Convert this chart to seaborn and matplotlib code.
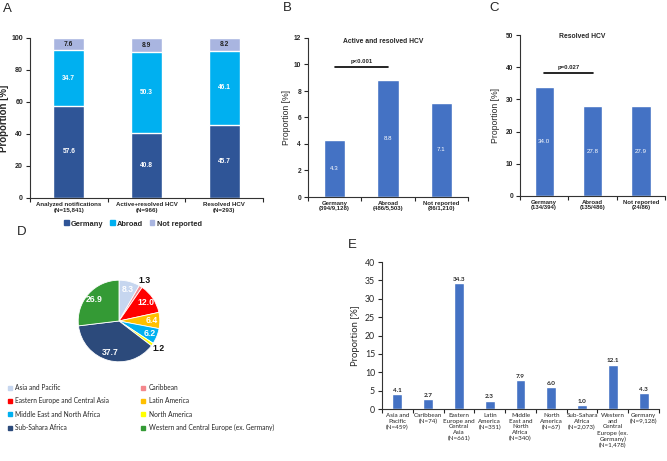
import numpy as np
import pandas as pd
import matplotlib
matplotlib.use('Agg')
import matplotlib.pyplot as plt
from matplotlib.patches import Patch
import seaborn as sns

# ---- data ----
a_groups = ['Analyzed notifications\n(N=15,841)', 'Active+resolved HCV\n(N=966)', 'Resolved HCV\n(N=293)']
a_germany = [57.6, 40.8, 45.7]
a_abroad = [34.7, 50.3, 46.1]
a_notrep = [7.6, 8.9, 8.2]

b_labels = ['Germany\n(394/9,128)', 'Abroad\n(486/5,503)', 'Not reported\n(86/1,210)']
b_values = [4.3, 8.8, 7.1]

c_labels = ['Germany\n(134/394)', 'Abroad\n(135/486)', 'Not reported\n(24/86)']
c_values = [34.0, 27.8, 27.9]

d_regions = ['Asia and Pacific', 'Caribbean', 'Eastern Europe and Central Asia', 'Latin America',
             'Middle East and North Africa', 'North America', 'Sub-Sahara Africa',
             'Western and Central Europe (ex. Germany)']
d_values = [8.3, 1.3, 12.0, 6.4, 6.2, 1.2, 37.7, 26.9]
d_colors = ['#C6D6EF', '#F4878C', '#FF0000', '#FFC000', '#00B0F0', '#FFFF00', '#2C4A7B', '#349A35']

e_labels = ['Asia and\nPacific\n(N=459)', 'Caribbean\n(N=74)', 'Eastern\nEurope and\nCentral\nAsia\n(N=661)',
            'Latin\nAmerica\n(N=351)', 'Middle\nEast and\nNorth\nAfrica\n(N=340)', 'North\nAmerica\n(N=67)',
            'Sub-Sahara\nAfrica\n(N=2,073)', 'Western\nand\nCentral\nEurope (ex.\nGermany)\n(N=1,478)',
            'Germany\n(N=9,128)']
e_values = [4.1, 2.7, 34.3, 2.3, 7.9, 6.0, 1.0, 12.1, 4.3]

BLUE = '#4472C4'
C_GER = '#2F5597'
C_ABR = '#00B0F0'
C_NR = '#A9B5E0'

sns.set_style('ticks')
plt.rcParams['font.family'] = ['Liberation Sans', 'DejaVu Sans']

fig = plt.figure(figsize=(6.67, 4.61), dpi=100)
W, H = 667, 461


def add_ax(x0, x1, ytop, ybot):
    return fig.add_axes([x0 / W, 1 - ybot / H, (x1 - x0) / W, (ybot - ytop) / H])


def cat_axis(ax, n, labels, size, ysize, weight='bold', family=None, ls=1.2):
    ax.set_xticks(range(n))
    ax.set_xticklabels(labels, fontsize=size, fontweight=weight, family=family, linespacing=ls)
    ax.set_xticks(np.arange(-0.5, n + 0.5, 1), minor=True)
    ax.tick_params(axis='x', which='major', length=0, pad=3)
    ax.tick_params(axis='x', which='minor', length=3, width=0.8, direction='out')
    ax.set_xlabel('')
    for s in ['top', 'right']:
        ax.spines[s].set_visible(False)
    for s in ['left', 'bottom']:
        ax.spines[s].set_linewidth(0.8)
        ax.spines[s].set_color('#333333')
    ax.tick_params(axis='y', length=3, width=0.8, labelsize=ysize, pad=2)
    for t in ax.get_yticklabels():
        t.set_fontweight(weight)
        if family:
            t.set_family(family)


# ---- Panel A ----
axA = add_ax(30, 263, 38, 198)
dfA = pd.DataFrame({'grp': a_groups, 'ger': a_germany, 'abr': a_abroad, 'nr': a_notrep})
dfA['top'] = dfA['ger'] + dfA['abr'] + dfA['nr']
dfA['mid'] = dfA['ger'] + dfA['abr']
for col, colr in [('top', C_NR), ('mid', C_ABR), ('ger', C_GER)]:
    sns.barplot(data=dfA, x='grp', y=col, color=colr, width=0.4, saturation=1,
                errorbar=None, ax=axA)
axA.set_xlim(-0.45, 2.48)
axA.set_ylim(0, 100)
axA.set_yticks(range(0, 101, 20))
cat_axis(axA, 3, a_groups, 4.4, 5.0, ls=1.3)
axA.set_ylabel('Proportion [%]', fontsize=7, fontweight='bold')
axA.yaxis.set_label_coords(-0.088, 0.5)
for i in range(3):
    g, a, n = a_germany[i], a_abroad[i], a_notrep[i]
    axA.text(i, g / 2, f'{g:.1f}', ha='center', va='center', color='white', fontsize=4.8, fontweight='bold')
    axA.text(i, g + a / 2, f'{a:.1f}', ha='center', va='center', color='white', fontsize=4.8, fontweight='bold')
    axA.text(i, g + a + n / 2, f'{n:.1f}', ha='center', va='center', color='#222222', fontsize=4.8, fontweight='bold')
fig.legend(handles=[Patch(color=C_GER, label='Germany'), Patch(color=C_ABR, label='Abroad'),
                    Patch(color=C_NR, label='Not reported')],
           loc='center', bbox_to_anchor=(133 / W, 1 - 224 / H), ncol=3, frameon=False,
           prop={'size': 5.4, 'weight': 'bold'}, handlelength=0.6, handleheight=0.6,
           handletextpad=0.3, columnspacing=0.9)

# ---- Panel B ----
axB = add_ax(308, 468, 38, 197)
sns.barplot(x=b_labels, y=b_values, color=BLUE, width=0.4, saturation=1, errorbar=None, ax=axB)
axB.set_xlim(-0.5, 2.5)
axB.set_ylim(0, 12)
axB.set_yticks(range(0, 13, 2))
cat_axis(axB, 3, b_labels, 4.3, 4.8, ls=1.05)
axB.set_ylabel('Proportion [%]', fontsize=6.2)
axB.yaxis.set_label_coords(-0.106, 0.5)
for i, v in enumerate(b_values):
    axB.text(i, v / 2, f'{v:.1f}', ha='center', va='center', color='white', fontsize=4.4)
axB.plot([0, 1], [9.8, 9.8], color='black', lw=1.2)
axB.text(0.5, 10.05, 'p<0.001', ha='center', va='bottom', fontsize=4.3, fontweight='bold')
axB.text(0.47, 0.975, 'Active and resolved HCV', transform=axB.transAxes, ha='center', va='center',
         fontsize=4.9, fontweight='bold')

# ---- Panel C ----
axC = add_ax(520, 665, 35, 196)
sns.barplot(x=c_labels, y=c_values, color=BLUE, width=0.4, saturation=1, errorbar=None, ax=axC)
axC.set_xlim(-0.5, 2.5)
axC.set_ylim(0, 50)
axC.set_yticks(range(0, 51, 10))
cat_axis(axC, 3, c_labels, 4.3, 4.8, ls=1.05)
axC.set_ylabel('Proportion [%]', fontsize=6.2)
axC.yaxis.set_label_coords(-0.138, 0.5)
for i, v in enumerate(c_values):
    axC.text(i, v / 2, f'{v:.1f}', ha='center', va='center', color='white', fontsize=4.4)
axC.plot([0, 1], [38.2, 38.2], color='black', lw=1.2)
axC.text(0.5, 39.0, 'p=0.027', ha='center', va='bottom', fontsize=4.3, fontweight='bold')
axC.text(0.43, 0.99, 'Resolved HCV', transform=axC.transAxes, ha='center', va='center',
         fontsize=4.9, fontweight='bold')

# ---- Panel D ----
axD = add_ax(68, 170, 270, 372)
wedges, _ = axD.pie(d_values, colors=d_colors, startangle=90, counterclock=False,
                    wedgeprops={'linewidth': 0.6, 'edgecolor': 'white'})
axD.set_aspect('equal')
cum = 0
for v in d_values:
    ang = np.deg2rad(90 - (cum + v / 2) / 100 * 360)
    cum += v
    if v < 2:
        r, col = 1.18, '#111111'
    else:
        r, col = 0.8, 'white'
    axD.text(r * np.cos(ang), r * np.sin(ang), f'{v:.1f}', ha='center', va='center',
             color=col, fontsize=6.2, fontweight='bold')
handles = [Patch(color=c, label=l) for l, c in zip(d_regions, d_colors)]
order = [0, 2, 4, 6, 1, 3, 5, 7]
fig.legend(handles=[handles[i] for i in order], loc='upper left',
           bbox_to_anchor=(8 / W, 1 - 384 / H), ncol=2, frameon=False,
           prop={'family': 'Lato', 'size': 4.8}, handlelength=0.6, handleheight=0.6,
           handletextpad=0.5, columnspacing=4.8, labelspacing=0.95, borderpad=0, borderaxespad=0)

# ---- Panel E ----
axE = add_ax(382, 659, 262, 409)
sns.barplot(x=list(range(len(e_values))), y=e_values, color=BLUE, width=0.32, saturation=1,
            errorbar=None, ax=axE)
axE.set_xlim(-0.5, 8.5)
axE.set_ylim(0, 40)
axE.set_yticks(range(0, 41, 5))
cat_axis(axE, 9, e_labels, 4.5, 6.3, weight='normal', family='Lato', ls=1.15)
axE.set_ylabel('Proportion [%]', fontsize=6.8, family='Lato')
axE.yaxis.set_label_coords(-0.079, 0.5)
for i, v in enumerate(e_values):
    axE.text(i, v + 0.3, f'{v:.1f}', ha='center', va='bottom', fontsize=4.6, fontweight='bold',
             family='Lato')

# panel letters
for lab, x, y in [('A', 3, 3), ('B', 283, 2), ('C', 489, 2), ('D', 17, 226), ('E', 348, 239)]:
    fig.text(x / W, 1 - y / H, lab, fontsize=9.5, ha='left', va='top')

fig.savefig('out.png', dpi=100)
